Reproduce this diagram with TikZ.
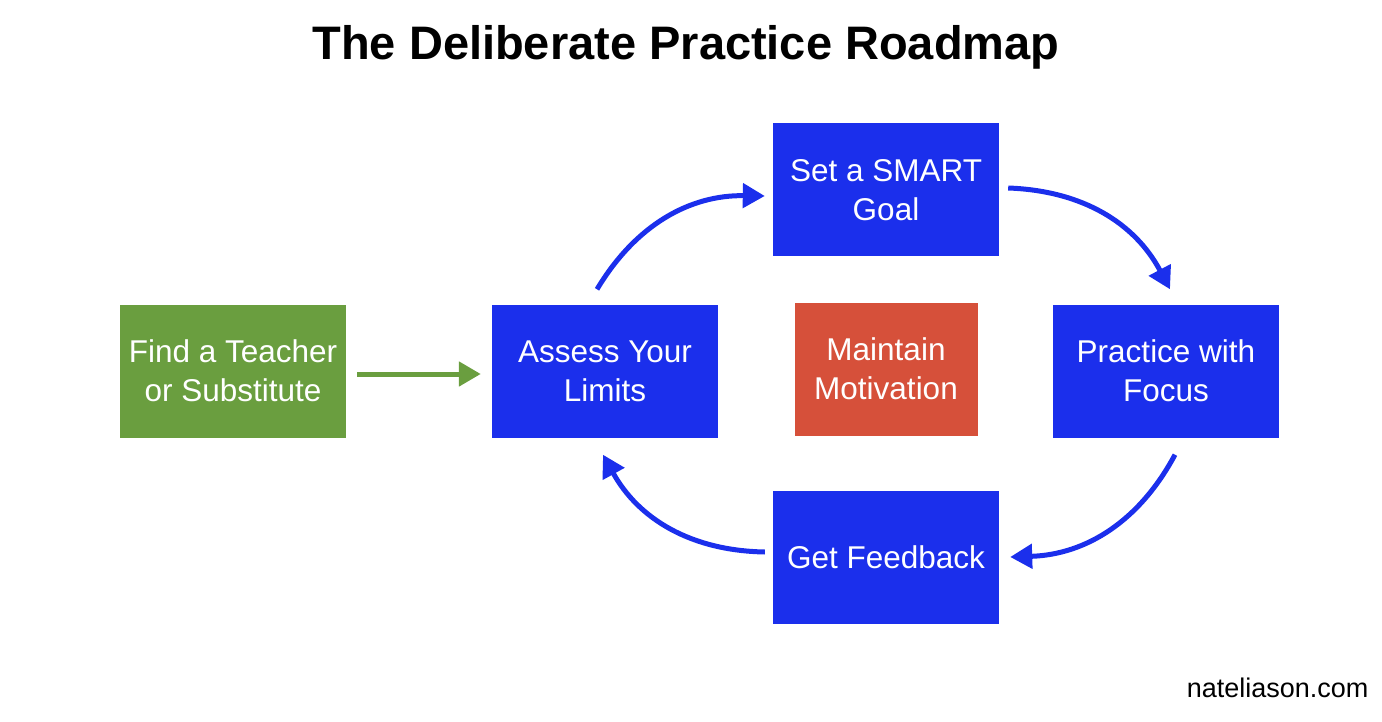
\documentclass[tikz,border=0pt]{standalone}
\usepackage{fontspec}
\setmainfont{Liberation Sans}
\usetikzlibrary{positioning, arrows.meta}
\definecolor{stepblue}{HTML}{1B2FEC}
\definecolor{stepgreen}{HTML}{6A9E3F}
\definecolor{stepred}{HTML}{D6503A}
\begin{document}
\begin{tikzpicture}[x=1pt,y=-1pt]
\tikzset{box/.style = {fill=stepblue, text=white, minimum width=226pt, minimum height=133pt, inner sep=0pt, align=center, font=\fontsize{31.5}{39}\selectfont}}
\tikzset{flow/.style = {-{Triangle[length=22pt,width=24pt]}, line width=5pt}}
\useasboundingbox (0,0) rectangle (1382,722);
% title
\node (title) at (686,47) {\fontsize{47}{54}\selectfont\bfseries The Deliberate Practice Roadmap};
% steps
\node[box, fill=stepgreen] (teacher) at (233,371) {Find a Teacher\\or Substitute};
\node[box] (assess) at (605,371) {Assess Your\\Limits};
\node[box] (goal) at (886,190) {Set a SMART\\Goal};
\node[box, fill=stepred, minimum width=183pt] (motivation) at (886,369) {Maintain\\Motivation};
\node[box] (practice) at (1166,371) {Practice with\\Focus};
\node[box] (feedback) at (886,557) {Get Feedback};
\node[anchor=east] (site) at (1372,688) {\fontsize{27}{30}\selectfont nateliason.com};
% arrows
\draw[flow, stepgreen] ([xshift=11pt,yshift=-3pt]teacher.east) -- ([xshift=-11pt,yshift=-3pt]assess.west);
\draw[flow, stepblue] ([xshift=-8pt,yshift=15pt]assess.north) to[bend left=30] ([xshift=-8pt,yshift=-6pt]goal.west);
\draw[flow, stepblue] ([xshift=9pt,yshift=2pt]goal.east) to[bend left=30] ([xshift=4pt,yshift=15pt]practice.north);
\draw[flow, stepblue] ([xshift=9pt,yshift=-17pt]practice.south) to[bend left=30] ([xshift=11pt]feedback.east);
\draw[flow, stepblue] ([xshift=-8pt,yshift=5pt]feedback.west) to[bend left=30] ([xshift=-2pt,yshift=-17pt]assess.south);
\end{tikzpicture}
\end{document}
